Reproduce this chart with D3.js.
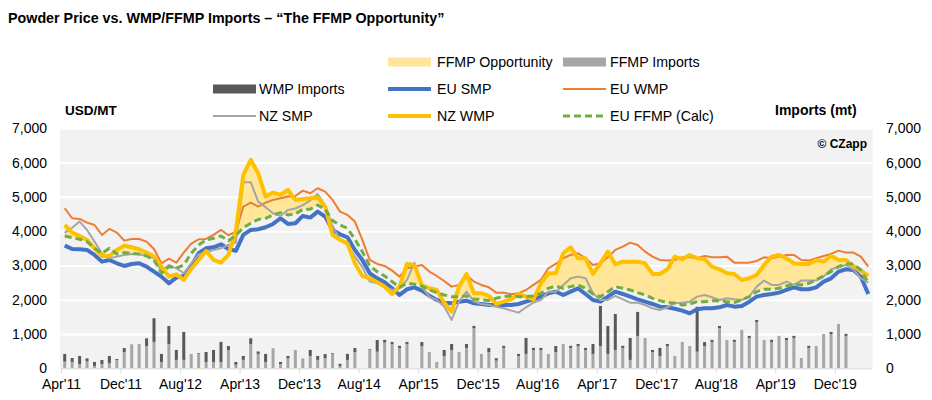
<!DOCTYPE html>
<html><head><meta charset="utf-8">
<script src="https://cdn.jsdelivr.net/npm/d3@7"></script>
<style>body{margin:0;background:#fff} text{font-family:"Liberation Sans",Arial,sans-serif;fill:#000}</style>
</head><body><svg id="c" width="932" height="400"></svg>
<script>
const months = ["Apr'11","May'11","Jun'11","Jul'11","Aug'11","Sep'11","Oct'11","Nov'11","Dec'11",
"Jan'12","Feb'12","Mar'12","Apr'12","May'12","Jun'12","Jul'12","Aug'12","Sep'12","Oct'12","Nov'12","Dec'12",
"Jan'13","Feb'13","Mar'13","Apr'13","May'13","Jun'13","Jul'13","Aug'13","Sep'13","Oct'13","Nov'13","Dec'13",
"Jan'14","Feb'14","Mar'14","Apr'14","May'14","Jun'14","Jul'14","Aug'14","Sep'14","Oct'14","Nov'14","Dec'14",
"Jan'15","Feb'15","Mar'15","Apr'15","May'15","Jun'15","Jul'15","Aug'15","Sep'15","Oct'15","Nov'15","Dec'15",
"Jan'16","Feb'16","Mar'16","Apr'16","May'16","Jun'16","Jul'16","Aug'16","Sep'16","Oct'16","Nov'16","Dec'16",
"Jan'17","Feb'17","Mar'17","Apr'17","May'17","Jun'17","Jul'17","Aug'17","Sep'17","Oct'17","Nov'17","Dec'17",
"Jan'18","Feb'18","Mar'18","Apr'18","May'18","Jun'18","Jul'18","Aug'18","Sep'18","Oct'18","Nov'18","Dec'18",
"Jan'19","Feb'19","Mar'19","Apr'19","May'19","Jun'19","Jul'19","Aug'19","Sep'19","Oct'19","Nov'19","Dec'19",
"Jan'20","Feb'20","Mar'20","Apr'20"];
const tickLabels = ["Apr'11","Dec'11","Aug'12","Apr'13","Dec'13","Aug'14","Apr'15","Dec'15","Aug'16","Apr'17","Dec'17","Aug'18","Apr'19","Dec'19"];
const yTicks = [0,1000,2000,3000,4000,5000,6000,7000];

const euSMP = [3578,3481,3471,3452,3306,3111,3160,3063,2985,3043,3063,2966,2820,2674,2479,2645,2693,2985,3355,3500,3530,3617,3481,3423,3890,4036,4055,4113,4210,4376,4210,4230,4444,4395,4570,4425,4036,3909,3822,3452,3160,2771,2625,2508,2333,2139,2304,2362,2265,2120,1993,1915,1896,1944,1973,1896,1876,1847,1847,1847,1847,1876,1944,2012,2090,2187,2236,2139,2236,2333,2168,1993,1944,2090,2236,2168,2090,2012,1944,1876,1798,1779,1735,1682,1604,1720,1750,1750,1779,1847,1798,1818,1944,2090,2139,2168,2207,2285,2362,2304,2304,2362,2528,2625,2820,2888,2868,2674,2168];
const euWMP = [4668,4376,4357,4250,4180,3890,4065,3960,3724,3773,3773,3695,3481,3063,3200,3082,3374,3637,3763,3773,3890,4036,3880,3987,4716,4833,4716,4830,4911,4960,5008,5027,5183,5105,5251,5154,4911,4570,4473,4279,3744,3160,3043,2985,2849,2674,2917,2966,3014,2820,2693,2547,2382,2431,2722,2528,2431,2362,2207,2207,2158,2187,2285,2431,2577,2917,3043,3209,3306,3355,3209,3014,3063,3238,3452,3549,3666,3598,3403,3257,3160,3141,3160,3238,3238,3209,3277,3238,3238,3257,3082,3082,3082,3131,3238,3209,3257,3306,3306,3160,3141,3209,3277,3335,3432,3374,3374,3257,2966];
const nzSMP = [3948,4100,4280,4036,3695,3355,3209,3257,3306,3335,3326,3277,3209,2820,3014,2917,2771,3063,3326,3384,3452,3500,3598,3666,5427,5430,4862,4700,4520,4440,4620,4660,4760,4900,5080,4750,4150,3750,3600,3257,2950,2528,2480,2382,2285,2333,2577,3082,2382,2090,1993,1800,1410,1944,2236,1944,1876,1847,1798,1750,1682,1623,1779,1915,1993,2236,2236,2431,2625,2674,2625,2187,1993,1993,2110,2012,1915,1915,1847,1750,1701,1779,1900,1915,1944,2090,2139,2071,1993,2041,2012,1993,2090,2382,2558,2431,2431,2528,2431,2558,2558,2558,2674,2888,2946,3014,2888,2625,2499];
const nzWMP = [4181,3958,3860,3744,3500,3277,3277,3452,3578,3530,3471,3374,3257,2966,2674,2742,2577,2897,3160,3423,3160,3082,3306,4000,5640,6080,5690,5008,5125,5057,5203,4911,4940,4960,4979,4716,3890,3744,3647,3063,2693,2625,2508,2382,2168,2382,3043,3014,2431,2333,2285,1915,1652,2382,2751,2187,2187,2110,1876,1944,2012,2168,2090,2012,2479,2771,2771,3355,3530,3209,3209,2751,3063,3403,3034,3111,3111,3111,3063,2751,2751,2888,3257,3180,3306,3209,3180,2966,2888,2771,2751,2577,2625,2722,3014,3257,3306,3209,3063,3043,3043,3160,3111,3277,3160,3160,2985,2849,2693];
const euFFMP = [3860,3811,3763,3695,3500,3355,3500,3335,3374,3355,3335,3277,3160,2771,2966,2917,3014,3355,3598,3744,3792,3860,3720,3880,4100,4230,4340,4376,4473,4540,4473,4502,4638,4638,4765,4638,4308,4181,4084,3763,3403,2985,2820,2693,2528,2362,2480,2450,2402,2285,2207,2139,2090,2090,2110,2012,2012,1973,2041,2090,2110,2090,2090,2110,2187,2333,2402,2333,2382,2431,2333,2168,2090,2236,2382,2333,2285,2207,2139,2041,1973,1915,1905,1847,1876,1944,1944,1973,1973,1944,1915,1993,2090,2236,2304,2304,2333,2402,2450,2431,2480,2577,2693,2820,2966,3043,3043,2868,2479];
const ffmpImports = [195,185,125,200,70,125,145,240,475,700,710,650,770,185,710,245,245,420,420,185,185,185,535,105,245,710,420,185,585,125,290,535,290,360,245,290,420,70,245,475,0,535,485,750,710,595,710,0,650,475,185,360,535,475,595,1167,420,475,225,595,0,360,420,535,535,420,475,710,595,650,535,420,650,420,535,595,245,945,885,475,360,650,360,770,650,485,650,770,1175,825,770,1120,885,1350,825,770,945,825,885,300,595,650,1000,1000,1295,945,0,0,0];
const wmpImports = [225,115,235,90,115,115,215,30,115,0,0,225,690,235,525,290,815,0,20,290,350,585,115,80,115,165,70,235,0,60,70,0,0,175,115,125,20,60,175,115,0,20,340,80,60,60,60,0,115,0,0,175,175,0,115,70,0,115,70,60,0,60,465,60,60,0,175,0,60,60,60,290,1170,815,1050,60,640,700,0,60,235,60,0,0,0,1310,115,60,60,0,60,0,60,60,0,60,0,60,60,0,60,0,0,60,0,60,0,0,0];

const svg = d3.select("#c");
const L = 61, R = 872, T = 128.3, B = 368.3;
const x = d3.scaleBand().domain(months).range([L, R]).padding(0);
const xc = m => x(m) + x.bandwidth()/2;
const xi = d3.scaleLinear().domain([0, months.length]).range([L, R]);
const y = d3.scaleLinear().domain([0, 7000]).range([B, T]);

svg.append("rect").attr("x", 60).attr("y", T).attr("width", R - 60 + 0.5).attr("height", B - T).attr("fill", "#f2f2f2");

svg.append("g").attr("transform", `translate(${60},0)`)
  .call(d3.axisLeft(y).tickValues(yTicks.slice(1)).tickSize(-(R - 60)).tickFormat(""))
  .call(g => g.select(".domain").remove())
  .call(g => g.selectAll("line").attr("stroke", "#fff").attr("stroke-width", 2));

svg.append("g").attr("transform", `translate(47,0)`)
  .call(d3.axisLeft(y).tickValues(yTicks).tickSize(0).tickPadding(0).tickFormat(d3.format(",")))
  .call(g => g.select(".domain").remove())
  .call(g => g.selectAll("text").attr("font-size", 14).attr("font-family", "Liberation Sans, Arial, sans-serif").attr("fill", "#000"));
svg.append("g").attr("transform", `translate(886,0)`)
  .call(d3.axisRight(y).tickValues(yTicks).tickSize(0).tickPadding(0).tickFormat(d3.format(",")))
  .call(g => g.select(".domain").remove())
  .call(g => g.selectAll("text").attr("font-size", 14).attr("font-family", "Liberation Sans, Arial, sans-serif").attr("fill", "#000"));

const rows = months.map((m, i) => ({m, ffmp: ffmpImports[i], wmp: wmpImports[i]}));
const stack = d3.stack().keys(["ffmp", "wmp"])(rows);
const barCol = {ffmp: "#a6a6a6", wmp: "#595959"};
const bw = 3;
stack.forEach(s => {
  svg.append("g").selectAll("rect").data(s).join("rect")
    .attr("x", d => xc(d.data.m) - bw/2)
    .attr("width", bw)
    .attr("y", d => y(d[1]))
    .attr("height", d => Math.max(0, y(d[0]) - y(d[1])))
    .attr("fill", barCol[s.key]);
});

svg.append("g").attr("transform", `translate(0,${B})`)
  .call(d3.axisBottom(xi).tickValues(tickLabels.map(t => months.indexOf(t))).tickSize(5).tickPadding(6)
    .tickFormat(i => months[i]))
  .call(g => g.select(".domain").attr("stroke", "#d9d9d9").attr("d", `M${L},0.5H${R}`))
  .call(g => g.selectAll("line").attr("stroke", "#d9d9d9"))
  .call(g => g.selectAll("text").attr("font-size", 14).attr("font-family", "Liberation Sans, Arial, sans-serif").attr("fill", "#000"));

const area = d3.area()
  .x((d, i) => xc(months[i]))
  .y0((d, i) => y(euFFMP[i]))
  .y1((d, i) => y(Math.max(nzWMP[i], euFFMP[i])));
svg.append("path").datum(months).attr("d", area).attr("fill", "#ffe699");

const line = arr => d3.line().x((d, i) => xc(months[i])).y(d => y(d))(arr);
const series = [
  {data: euSMP, color: "#4472c4", w: 4},
  {data: euWMP, color: "#ed7d31", w: 2},
  {data: nzSMP, color: "#a5a5a5", w: 2},
  {data: nzWMP, color: "#ffc000", w: 4},
  {data: euFFMP, color: "#70ad47", w: 3, dash: "7,4"}
];
series.forEach(s => {
  svg.append("path").attr("d", line(s.data)).attr("fill", "none")
    .attr("stroke", s.color).attr("stroke-width", s.w).attr("stroke-linejoin", "round")
    .attr("stroke-dasharray", s.dash || null);
});

svg.append("text").attr("x", 8).attr("y", 23).attr("font-size", 14.3).attr("font-weight", "bold")
  .text("Powder Price vs. WMP/FFMP Imports \u2013 \u201cThe FFMP Opportunity\u201d");
svg.append("text").attr("x", 65).attr("y", 115).attr("font-size", 13.5).attr("font-weight", "bold").text("USD/MT");
svg.append("text").attr("x", 775).attr("y", 115).attr("font-size", 14).attr("font-weight", "bold").text("Imports (mt)");
svg.append("text").attr("x", 867).attr("y", 148).attr("font-size", 12).attr("font-weight", "bold").attr("text-anchor", "end").text("\u00a9 CZapp");

const legend = [
  {label: "FFMP Opportunity", type: "rect", color: "#ffe699", col: 1, row: 0},
  {label: "FFMP Imports", type: "rect", color: "#a6a6a6", col: 2, row: 0},
  {label: "WMP Imports", type: "rect", color: "#595959", col: 0, row: 1},
  {label: "EU SMP", type: "line", color: "#4472c4", w: 4, col: 1, row: 1},
  {label: "EU WMP", type: "line", color: "#ed7d31", w: 2, col: 2, row: 1},
  {label: "NZ SMP", type: "line", color: "#a5a5a5", w: 2, col: 0, row: 2},
  {label: "NZ WMP", type: "line", color: "#ffc000", w: 4, col: 1, row: 2},
  {label: "EU FFMP (Calc)", type: "line", color: "#70ad47", w: 3, dash: "7,4", col: 2, row: 2}
];
const colX = [213, 388, 563], colT = [259, 437, 610], rowY = [62, 89, 116];
legend.forEach(l => {
  const x0 = colX[l.col], yc = rowY[l.row];
  if (l.type === "rect") {
    svg.append("rect").attr("x", x0).attr("y", yc - 4.5).attr("width", 43).attr("height", 9).attr("fill", l.color);
  } else {
    svg.append("line").attr("x1", x0).attr("x2", x0 + 43).attr("y1", yc).attr("y2", yc)
      .attr("stroke", l.color).attr("stroke-width", l.w).attr("stroke-dasharray", l.dash || null);
  }
  svg.append("text").attr("x", colT[l.col]).attr("y", yc + 5).attr("font-size", 14.2).text(l.label);
});
</script></body></html>
